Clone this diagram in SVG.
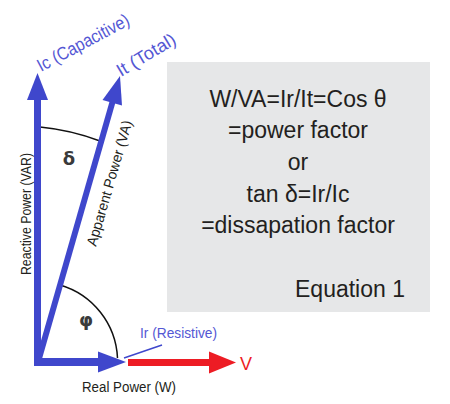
<svg xmlns="http://www.w3.org/2000/svg" width="450" height="404" viewBox="0 0 450 404">
<style>
.lbl{font-family:"Liberation Sans",Arial,sans-serif;fill:#5457d4;font-size:18px}
.blk{font-family:"Liberation Sans",Arial,sans-serif;fill:#231f20;font-size:14.5px}
.eq{font-family:"Liberation Sans",Arial,sans-serif;fill:#231f20;font-size:23px;text-anchor:middle}
.sym{font-family:"DejaVu Sans",sans-serif;fill:#3a3a3a;font-size:18px;font-weight:bold;text-anchor:middle}
.arc{fill:none;stroke:#111;stroke-width:1.5}
.blue{fill:#3f47cc}
.bshaft{stroke:#3f47cc;fill:none}
</style>
<rect width="450" height="404" fill="#ffffff"/>
<g id="equation-box">
<rect x="167" y="62" width="263" height="250" fill="#e6e7e8"/>
<text class="eq" x="298" y="107">W/VA=Ir/It=Cos θ</text>
<text class="eq" x="298" y="138">=power factor</text>
<text class="eq" x="298" y="170">or</text>
<text class="eq" x="298" y="202">tan δ=Ir/Ic</text>
<text class="eq" x="298" y="233">=dissapation factor</text>
<text class="eq" x="350" y="297">Equation 1</text>
</g>
<g id="angles">
<path class="arc" d="M40 127 A232 232 0 0 1 100 141"/>
<path class="arc" d="M60 285 A80 80 0 0 1 117.5 358"/>
<text class="sym" x="69" y="165">δ</text>
<text class="sym" x="86" y="326">φ</text>
</g>
<g id="connectors">
<g id="ic-vector">
<line class="bshaft" x1="37.5" y1="366" x2="37.5" y2="99" stroke-width="7"/>
<polygon class="blue" points="27,100 48,100 37.5,73"/>
</g>
<g id="it-vector">
<line class="bshaft" x1="38" y1="362" x2="112.5" y2="102" stroke-width="6"/>
<polygon class="blue" points="122,105.5 102.5,100 120,76"/>
</g>
<g id="ir-vector">
<line class="bshaft" x1="34" y1="362" x2="99" y2="362" stroke-width="8"/>
<polygon class="blue" points="98,351.5 98,372.5 126,362"/>
</g>
<g id="v-vector">
<line x1="128" y1="362.5" x2="211" y2="362.5" stroke="#ed1c24" stroke-width="7"/>
<polygon points="209,351.5 209,373.5 236,362.5" fill="#ed1c24"/>
</g>
<line id="ir-pointer" x1="124" y1="358" x2="162" y2="345" stroke="#3f47cc" stroke-width="1.5"/>
</g>
<g id="labels">
<text class="lbl" transform="translate(41,72) rotate(-28)" textLength="102" lengthAdjust="spacingAndGlyphs">Ic (Capacitive)</text>
<text class="lbl" transform="translate(121,77) rotate(-31)" textLength="66" lengthAdjust="spacingAndGlyphs">It (Total)</text>
<text class="lbl" x="140" y="338" style="font-size:15.5px" textLength="77" lengthAdjust="spacingAndGlyphs">Ir (Resistive)</text>
<text x="240" y="370" font-family="Liberation Sans, Arial, sans-serif" font-size="18" fill="#ed1c24">V</text>
<text class="blk" transform="translate(31,275) rotate(-90)" textLength="122" lengthAdjust="spacingAndGlyphs">Reactive Power (VAR)</text>
<text class="blk" transform="translate(96,247) rotate(-73.8)" textLength="130" lengthAdjust="spacingAndGlyphs">Apparent Power (VA)</text>
<text class="blk" x="82" y="392" style="font-size:15.5px" textLength="94" lengthAdjust="spacingAndGlyphs">Real Power (W)</text>
</g>
</svg>
